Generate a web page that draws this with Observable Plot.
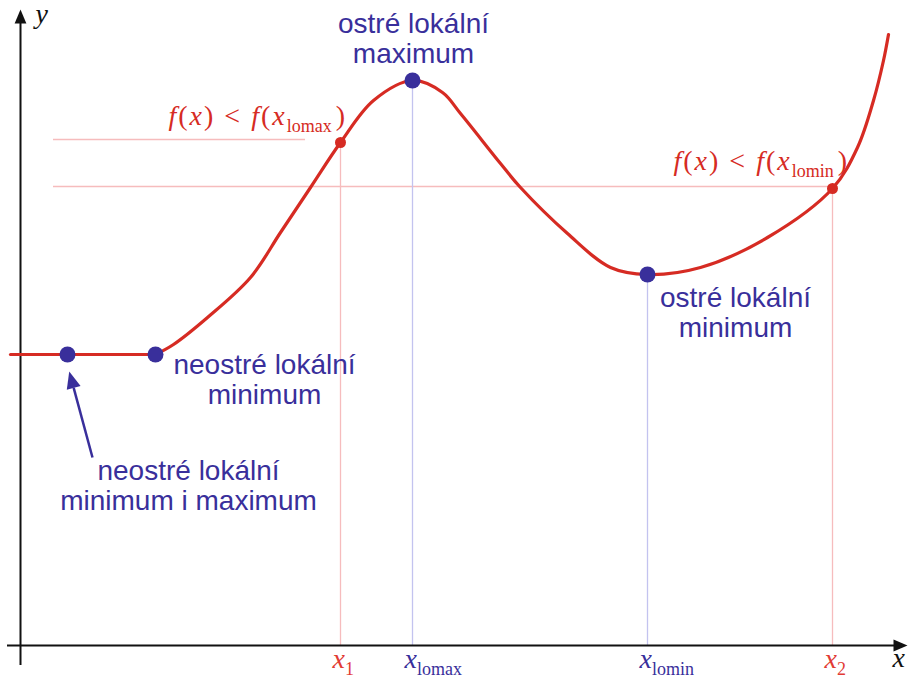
<!DOCTYPE html>
<html>
<head>
<meta charset="utf-8">
<script src="https://cdn.jsdelivr.net/npm/d3@7"></script>
<script src="https://cdn.jsdelivr.net/npm/@observablehq/plot@0.6"></script>
<style>
  html, body { margin: 0; padding: 0; background: #fff; }
  svg { display: block; }
</style>
</head>
<body>
<div id="chart"></div>
<script>
// ---- data (abstract units) ----
const flatX = [-0.10, 0.47, 1.35];
const flatY = [2.91, 2.91, 2.91];
const curveX = [1.35, 1.53, 1.87, 2.30, 2.60, 2.90, 3.20, 3.53, 3.92, 4.22, 4.40, 4.80, 5.00, 5.47, 5.90, 6.27, 6.80, 7.47, 8.12, 8.37, 8.53, 8.63, 8.68];
const curveY = [2.91, 3.01, 3.28, 3.68, 4.13, 4.58, 5.03, 5.45, 5.65, 5.53, 5.32, 4.82, 4.58, 4.12, 3.78, 3.71, 3.78, 4.08, 4.57, 4.98, 5.45, 5.85, 6.11];

const extremaX = [0.47, 1.35, 3.92, 6.27];
const extremaY = [2.91, 2.91, 5.65, 3.71];

const compareX = [3.20, 8.12];
const compareY = [5.03, 4.57];

const guideX = [3.20, 3.92, 6.27, 8.12];
const guideTop = [5.03, 5.65, 3.71, 4.57];
const guideLabel = ["x_1", "x_lomax", "x_lomin", "x_2"];
const guideKind = ["red", "blue", "blue", "red"];

const levelY = [5.06, 4.59];
const levelFrom = [0.33, 0.33];
const levelTo = [2.85, 8.12];

const ineqText = ["f(x) < f(x_lomax)", "f(x) < f(x_lomin)"];
const ineqX = [1.48, 6.53];
const ineqY = [5.29, 4.84];

const noteText = ["ostré lokální\nmaximum", "neostré lokální\nminimum", "ostré lokální\nminimum", "neostré lokální\nminimum i maximum"];
const noteX = [3.93, 2.44, 7.15, 1.68];
const noteY = [6.07, 2.665, 3.335, 1.60];

const arrowFrom = [0.72, 1.88];
const arrowTip = [0.49, 2.73];

const axisLabelText = ["y", "x"];
const axisLabelX = [0.15, 8.72];
const axisLabelY = [6.31, -0.13];

// ---- styles ----
const RED = "#d62b23";
const RED_LIGHT = "#e23b35";
const BLUE = "#392f9b";
const PINK = "#f6bcbd";
const LAVENDER = "#c3c3ef";
const SANS = "'Liberation Sans', Arial, Helvetica, sans-serif";
const SERIF = "'Liberation Serif', 'Times New Roman', serif";

// ---- tables ----
const flat = flatX.map((x, i) => ({x, y: flatY[i]}));
const curve = curveX.map((x, i) => ({x, y: curveY[i]}));
const extrema = extremaX.map((x, i) => ({x, y: extremaY[i]}));
const compares = compareX.map((x, i) => ({x, y: compareY[i]}));
const guides = guideX.map((x, i) => ({x, top: guideTop[i], label: guideLabel[i], kind: guideKind[i]}));
const levels = levelY.map((y, i) => ({y, x1: levelFrom[i], x2: levelTo[i]}));
const ineqs = ineqText.map((t, i) => ({t, x: ineqX[i], y: ineqY[i]}));
const notes = noteText.map((t, i) => ({t, x: noteX[i], y: noteY[i]}));
const axisLabels = axisLabelText.map((t, i) => ({t, x: axisLabelX[i], y: axisLabelY[i]}));

// arrow geometry (both scales are 100 px per unit)
const adx = arrowTip[0] - arrowFrom[0], ady = arrowTip[1] - arrowFrom[1];
const alen = Math.hypot(adx, ady);
const headLen = 0.16;
const arrowBase = [arrowTip[0] - adx / alen * headLen, arrowTip[1] - ady / alen * headLen];
const arrowAngle = Math.atan2(adx, ady) * 180 / Math.PI;

const triangle = {
  draw(ctx, l) {
    const r = l * 0.42;
    ctx.moveTo(0, -l);
    ctx.lineTo(r, 0);
    ctx.lineTo(-r, 0);
    ctx.closePath();
  }
};

const svg = Plot.plot({
  width: 909,
  height: 680,
  marginTop: 0, marginRight: 0, marginBottom: 0, marginLeft: 0,
  x: {domain: [-0.2, 8.89], axis: null},
  y: {domain: [-0.35, 6.45], axis: null},
  style: {background: "#fff", overflow: "visible"},
  marks: [
    Plot.ruleY(levels, {y: "y", x1: "x1", x2: "x2", stroke: PINK, strokeWidth: 1.3}),
    Plot.ruleX(guides, {x: "x", y1: 0, y2: "top", stroke: d => d.kind === "red" ? PINK : LAVENDER, strokeWidth: 1.3}),
    Plot.ruleX([0], {y1: -0.2, y2: 6.24, stroke: "#111", strokeWidth: 2}),
    Plot.ruleY([0], {x1: -0.13, x2: 8.75, stroke: "#111", strokeWidth: 2}),
    Plot.vector([{x: 0, y: 6.22}], {x: "x", y: "y", length: 14, rotate: 0, anchor: "start", shape: triangle, fill: "#111", stroke: "none"}),
    Plot.vector([{x: 8.73, y: 0}], {x: "x", y: "y", length: 14, rotate: 90, anchor: "start", shape: triangle, fill: "#111", stroke: "none"}),
    Plot.line(flat, {x: "x", y: "y", stroke: RED, strokeWidth: 3.2}),
    Plot.line(curve, {x: "x", y: "y", curve: "catmull-rom", stroke: RED, strokeWidth: 3.2}),
    Plot.dot(compares, {x: "x", y: "y", r: 5.5, fill: RED, stroke: "none"}),
    Plot.dot(extrema, {x: "x", y: "y", r: 8, fill: BLUE, stroke: "none"}),
    Plot.link([{}], {x1: () => arrowFrom[0], y1: () => arrowFrom[1], x2: () => arrowBase[0], y2: () => arrowBase[1], stroke: BLUE, strokeWidth: 2.5}),
    Plot.vector([{x: arrowBase[0], y: arrowBase[1]}], {x: "x", y: "y", length: 17, rotate: arrowAngle, anchor: "start", shape: triangle, fill: BLUE, stroke: "none"}),
    Plot.text(notes, {x: "x", y: "y", text: "t", fill: BLUE, fontSize: 28, fontFamily: SANS, lineHeight: 1.08, textAnchor: "middle"}),
    Plot.text(ineqs, {x: "x", y: "y", text: "t", fill: RED, fontSize: 28, fontFamily: SERIF, textAnchor: "start", className: "rich ineq"}),
    Plot.text(guides, {x: "x", y: -0.14, dx: -8, text: "label", fill: d => d.kind === "red" ? RED_LIGHT : BLUE, fontSize: 28, fontFamily: SERIF, textAnchor: "start", className: "rich"}),
    Plot.text(axisLabels, {x: "x", y: "y", text: "t", fill: "#111", fontSize: 28, fontFamily: SERIF, textAnchor: "start", className: "rich"})
  ]
});

// rich text: italic math letters and subscripts
function parse(str) {
  const segs = [];
  let i = 0;
  while (i < str.length) {
    const c = str[i];
    if (c === "_") {
      let j = i + 1;
      while (j < str.length && /[a-z0-9]/.test(str[j])) j++;
      segs.push({t: str.slice(i + 1, j), sub: true});
      i = j;
    } else if ("fxy".includes(c)) {
      segs.push({t: c, italic: true});
      i++;
    } else {
      let j = i;
      while (j < str.length && !"fxy_".includes(str[j])) j++;
      segs.push({t: str.slice(i, j)});
      i = j;
    }
  }
  return segs;
}
d3.select(svg).selectAll("g.rich text").each(function() {
  const el = d3.select(this);
  const spaced = this.parentNode.classList.contains("ineq");
  const segs = parse(this.textContent);
  el.text(null).attr("xml:space", "preserve").style("white-space", "pre");
  let shifted = false;
  for (const s of segs) {
    const ts = el.append("tspan").text(s.t);
    if (s.italic) ts.attr("font-style", "italic");
    if (s.sub) {
      ts.attr("font-size", 18).attr("dy", shifted ? null : 7).attr("letter-spacing", 0);
      shifted = true;
    } else {
      if (spaced) ts.attr("letter-spacing", 2);
      if (shifted) {
        ts.attr("dy", -7).attr("dx", 4);
        shifted = false;
      }
    }
  }
});

document.getElementById("chart").appendChild(svg);
</script>
</body>
</html>
